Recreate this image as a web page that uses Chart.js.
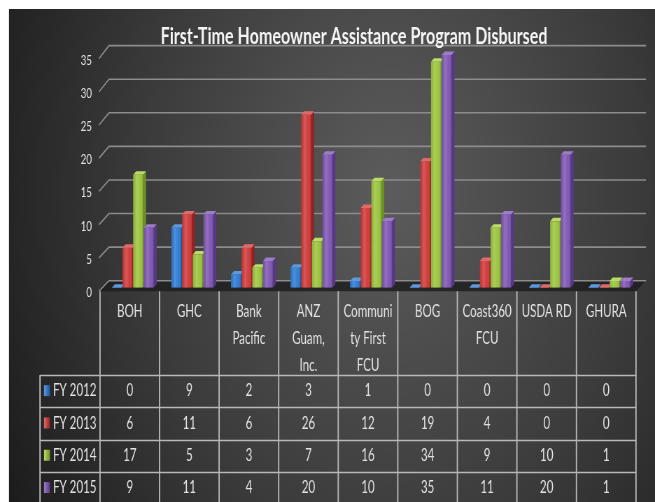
<!DOCTYPE html>
<html><head><meta charset="utf-8">
<script src="https://cdn.jsdelivr.net/npm/chart.js@4"></script>
<style>html,body{margin:0;padding:0;background:#fff;overflow:hidden}#wrap{width:655px;height:502px;position:relative}#c{width:655px;height:502px;display:block}</style>
</head><body><div id="wrap"><canvas id="c" width="936" height="502" style="width:655px;height:502px"></canvas></div>
<script>
const categories = [["BOH"],["GHC"],["Bank","Pacific"],["ANZ","Guam,","Inc."],["Communi","ty First","FCU"],["BOG"],["Coast360","FCU"],["USDA RD"],["GHURA"]];
const seriesNames = ["FY 2012","FY 2013","FY 2014","FY 2015"];
const fy2012 = [0,9,2,3,1,0,0,0,0];
const fy2013 = [6,11,6,26,12,19,4,0,0];
const fy2014 = [17,5,3,7,16,34,9,10,1];
const fy2015 = [9,11,4,20,10,35,11,20,1];
const yTickStep = 5;
const yMax = 35;

// The canvas is drawn 936 px wide and shown 655 px wide (narrow, tall lettering like the reference).
const W = 936;
const S = 655 / W;
const px = v => v / S;
const FONT = "Lato, 'Open Sans', sans-serif";
const front = ['#2f7cd3','#d13a3a','#9cc53e','#7f57b3'];
const side  = ['#1d5598','#932222','#6c9126','#573887'];
const topc  = ['#5b9ae0','#e06a6a','#b8dc64','#9c7ccb'];
const seriesData = [fy2012, fy2013, fy2014, fy2015];
const SHIFT = px(3), DX = px(3), DY = 3.5;
// screen-space layout targets
const plotLeft = px(103), plotRight = px(639), titleCenter = px(354);
const padRight = W - plotRight;
const padLeft = 2 * titleCenter - W + padRight;

function barBoxes(chart, cb) {
  const n = categories.length;
  for (let i = 0; i < n; i++) {
    for (let d = 0; d < seriesData.length; d++) {
      const el = chart.getDatasetMeta(d).data[i];
      const p = el.getProps(['x','y','base','width'], true);
      cb(d, p.x - p.width / 2, p.x + p.width / 2, Math.min(p.y, p.base), p.base);
    }
  }
}

const bgPlugin = {
  id: 'bg3d',
  beforeDraw(chart) {
    const ctx = chart.ctx, ys = chart.scales.y, xs = chart.scales.x;
    ctx.save();
    ctx.fillStyle = '#fff';
    ctx.fillRect(0, 0, chart.width, chart.height);
    const g = ctx.createRadialGradient(px(390), 190, 0, px(390), 190, px(440));
    g.addColorStop(0, '#5c5c5c');
    g.addColorStop(0.55, '#3c3c3c');
    g.addColorStop(1, '#1c1c1c');
    ctx.fillStyle = g;
    ctx.fillRect(px(9), 9, chart.width - px(9), chart.height - 9);
    const x0 = xs.left - SHIFT, x1 = xs.right - SHIFT;
    const b0 = ys.getPixelForValue(0);
    const frontY = v => ys.getPixelForValue(v) + 3.5;
    const backY = v => (b0 - 7) + (ys.getPixelForValue(v) - b0) * 1.01;
    ctx.fillStyle = 'rgba(30,30,30,0.85)';
    ctx.beginPath();
    ctx.moveTo(x0 - px(1), frontY(0));
    ctx.lineTo(x0 + px(9), backY(0));
    ctx.lineTo(x1 + px(10), backY(0));
    ctx.lineTo(x1, frontY(0));
    ctx.closePath();
    ctx.fill();
    ctx.strokeStyle = '#8c8c8c';
    ctx.lineWidth = 1.6;
    for (let v = 0; v <= yMax; v += yTickStep) {
      ctx.beginPath();
      ctx.moveTo(x0 - px(1), frontY(v));
      ctx.lineTo(x0 + px(9), backY(v));
      ctx.lineTo(x1 + px(10), backY(v));
      ctx.stroke();
    }
    ctx.restore();
  },
  beforeDatasetsDraw(chart) {
    const ctx = chart.ctx;
    ctx.save();
    barBoxes(chart, (d, l, r, t, b) => {
      ctx.fillStyle = side[d];
      ctx.beginPath();
      ctx.moveTo(r, t); ctx.lineTo(r + DX, t - DY); ctx.lineTo(r + DX, b - DY); ctx.lineTo(r, b);
      ctx.closePath(); ctx.fill();
      ctx.fillStyle = topc[d];
      ctx.beginPath();
      ctx.moveTo(l, t); ctx.lineTo(l + DX, t - DY); ctx.lineTo(r + DX, t - DY); ctx.lineTo(r, t);
      ctx.closePath(); ctx.fill();
    });
    ctx.restore();
  },
  afterDatasetsDraw(chart) {
    const ctx = chart.ctx;
    ctx.save();
    barBoxes(chart, (d, l, r, t, b) => {
      if (b - t < 0.5) return;
      const g = ctx.createLinearGradient(l, 0, r, 0);
      g.addColorStop(0, 'rgba(0,0,0,0.08)');
      g.addColorStop(0.35, 'rgba(255,255,255,0.16)');
      g.addColorStop(0.7, 'rgba(255,255,255,0.02)');
      g.addColorStop(1, 'rgba(0,0,0,0.14)');
      ctx.fillStyle = g;
      ctx.fillRect(l, t, r - l, b - t);
    });
    ctx.restore();
  },
  afterDraw(chart) {
    const ctx = chart.ctx, xs = chart.scales.x, ys = chart.scales.y;
    const n = categories.length;
    const x0 = xs.left - SHIFT, cw = (xs.right - xs.left) / n;
    const floorY = ys.getPixelForValue(0) + 3.5;
    const rowTop = 375, rowH = 32.3, legL = px(40);
    ctx.save();
    ctx.strokeStyle = '#b8b8b8';
    ctx.lineWidth = px(1.3);
    ctx.beginPath();
    for (let k = 0; k <= n; k++) {
      const x = x0 + k * cw;
      ctx.moveTo(x, floorY); ctx.lineTo(x, chart.height);
    }
    ctx.moveTo(legL, rowTop); ctx.lineTo(legL, chart.height);
    ctx.stroke();
    ctx.lineWidth = 1.3;
    ctx.beginPath();
    for (let r = 0; r <= seriesData.length; r++) {
      const y = Math.round(rowTop + r * rowH) + 0.5;
      ctx.moveTo(legL, y); ctx.lineTo(x0 + n * cw, y);
    }
    ctx.stroke();
    ctx.font = '16.5px ' + FONT;
    ctx.textBaseline = 'middle';
    for (let r = 0; r < seriesData.length; r++) {
      const cy = rowTop + r * rowH + rowH / 2;
      const g = ctx.createLinearGradient(px(44), 0, px(50), 0);
      g.addColorStop(0, topc[r]); g.addColorStop(1, side[r]);
      ctx.fillStyle = g;
      ctx.fillRect(px(44), cy - 6, px(6), 11);
      ctx.fillStyle = '#e2e2e2';
      ctx.textAlign = 'left';
      ctx.fillText(seriesNames[r], px(53), cy);
      ctx.textAlign = 'center';
      for (let i = 0; i < n; i++) {
        ctx.fillText(String(seriesData[r][i]), x0 + (i + 0.5) * cw, cy);
      }
    }
    ctx.restore();
  }
};

new Chart(document.getElementById('c'), {
  type: 'bar',
  data: {
    labels: categories,
    datasets: seriesNames.map((name, d) => ({
      label: name,
      data: seriesData[d],
      backgroundColor: front[d],
      borderWidth: 0,
      categoryPercentage: 0.717,
      barPercentage: 0.92
    }))
  },
  options: {
    responsive: false,
    animation: false,
    devicePixelRatio: 1,
    layout: { padding: { left: padLeft, right: padRight, top: 0, bottom: 0 } },
    plugins: {
      legend: { display: false },
      tooltip: { enabled: false },
      title: {
        display: true,
        text: 'First-Time Homeowner Assistance Program Disbursed',
        color: '#f4f4f4',
        font: { family: FONT, size: 23, weight: 'bold', lineHeight: 1.2 },
        padding: { top: 22.6, bottom: 4.8 }
      }
    },
    scales: {
      x: {
        grid: { display: false, drawTicks: false },
        border: { display: false },
        ticks: {
          color: '#e2e2e2',
          font: { family: FONT, size: 16.5, lineHeight: 27 / 16.5 },
          padding: 10.8,
          labelOffset: -SHIFT,
          maxRotation: 0,
          autoSkip: false
        },
        afterFit(s) { s.height = 214.3; }
      },
      y: {
        min: 0, max: yMax,
        grid: { display: false, drawTicks: false },
        border: { display: false },
        ticks: { stepSize: yTickStep, color: '#e2e2e2', font: { family: FONT, size: 14 }, padding: px(11), labelOffset: 5 },
        afterFit(s) { s.width = plotLeft - padLeft; }
      }
    }
  },
  plugins: [bgPlugin]
});
</script></body></html>
